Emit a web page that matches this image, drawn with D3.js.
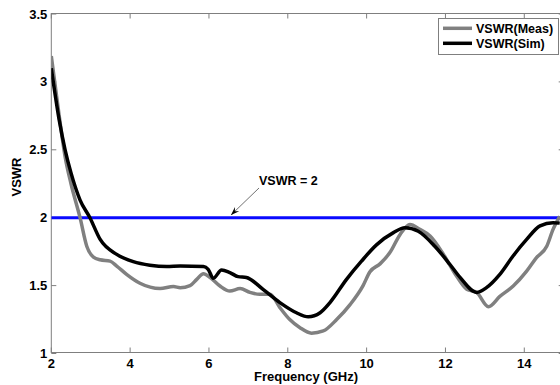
<!DOCTYPE html>
<html><head><meta charset="utf-8">
<script src="https://cdn.jsdelivr.net/npm/d3@7"></script>
<style>body{margin:0;background:#fff}svg{display:block}text{font-family:"Liberation Sans",Arial,sans-serif;font-weight:bold}</style>
</head><body>
<script>
const measFreq = [2.0,2.2,2.35,2.5,2.73,2.9,3.07,3.24,3.49,3.66,3.91,4.25,4.76,5.1,5.27,5.52,5.69,5.86,6.03,6.28,6.53,6.79,7.04,7.29,7.55,7.8,8.05,8.31,8.6,8.9,9.24,9.58,9.91,10.08,10.34,10.59,10.85,11.1,11.35,11.61,11.95,12.28,12.54,12.79,13.09,13.38,13.72,14.06,14.31,14.57,14.73,14.9];
const measVswr = [3.19,2.75,2.45,2.25,2.0,1.79,1.71,1.69,1.68,1.644,1.583,1.517,1.478,1.493,1.485,1.5,1.546,1.588,1.56,1.497,1.46,1.478,1.45,1.436,1.436,1.338,1.25,1.19,1.15,1.166,1.25,1.36,1.5,1.6,1.66,1.743,1.877,1.95,1.914,1.865,1.73,1.57,1.473,1.45,1.345,1.42,1.497,1.607,1.706,1.79,1.914,2.01];
const simFreq = [2.0,2.2,2.35,2.5,2.73,2.98,3.24,3.66,4.08,4.5,4.93,5.27,5.86,5.98,6.11,6.32,6.53,6.74,6.95,7.38,7.8,8.22,8.52,8.82,9.07,9.49,9.87,10.25,10.68,10.97,11.31,11.73,12.11,12.37,12.79,13.04,13.38,13.72,14.06,14.4,14.73,14.9];
const simVswr = [3.1,2.72,2.5,2.33,2.13,2.0,1.84,1.73,1.676,1.65,1.64,1.644,1.64,1.62,1.554,1.615,1.596,1.566,1.56,1.47,1.375,1.3,1.27,1.3,1.375,1.546,1.68,1.8,1.89,1.926,1.9,1.79,1.657,1.56,1.45,1.485,1.583,1.72,1.84,1.94,1.963,1.96];
const xTicks = [2,4,6,8,10,12,14];
const yTicks = [1,1.5,2,2.5,3,3.5];
const refFreq = [2,15];
const refVswr = [2,2];
const seriesNames = ["VSWR(Meas)","VSWR(Sim)"];

const W=560,H=385;
const svg=d3.select("body").append("svg").attr("width",W).attr("height",H);
const x=d3.scaleLinear().domain([2,15]).range([51.3,563.7]);
const y=d3.scaleLinear().domain([1,3.5]).range([353.5,14]);
const pL=51.3,pR=563.7,pT=13.5,pB=352.5;
const axisCol="#7f7f7f";

svg.append("rect").attr("x",pL).attr("y",pT).attr("width",pR-pL).attr("height",pB-pT)
  .attr("fill","none").attr("stroke",axisCol).attr("stroke-width",1);

const tl=5;
xTicks.forEach(t=>{
  const px=x(t);
  svg.append("line").attr("x1",px).attr("x2",px).attr("y1",pB).attr("y2",pB-tl).attr("stroke",axisCol);
  svg.append("line").attr("x1",px).attr("x2",px).attr("y1",pT).attr("y2",pT+tl).attr("stroke",axisCol);
  svg.append("text").attr("x",px).attr("y",pB+15).attr("text-anchor","middle").attr("font-size",13).text(t);
});
yTicks.forEach(t=>{
  const py=y(t);
  svg.append("line").attr("x1",pL).attr("x2",pL+tl).attr("y1",py).attr("y2",py).attr("stroke",axisCol);
  svg.append("line").attr("x1",pR).attr("x2",pR-tl).attr("y1",py).attr("y2",py).attr("stroke",axisCol);
  svg.append("text").attr("x",pL-4).attr("y",py+4.5).attr("text-anchor","end").attr("font-size",13).text(t);
});

svg.append("text").attr("x",306).attr("y",381).attr("text-anchor","middle").attr("font-size",13).text("Frequency (GHz)");
svg.append("text").attr("transform","translate(21,177) rotate(-90)").attr("text-anchor","middle").attr("font-size",13).text("VSWR");

svg.append("defs").append("clipPath").attr("id","c").append("rect")
  .attr("x",pL).attr("y",pT).attr("width",pR-pL).attr("height",pB-pT);
const g=svg.append("g").attr("clip-path","url(#c)");
const line=d3.line().x(d=>x(d[0])).y(d=>y(d[1])).curve(d3.curveMonotoneX);

g.append("path").datum(refFreq.map((f,i)=>[f,refVswr[i]])).attr("d",line).attr("fill","none").attr("stroke","#0a0aff").attr("stroke-width",3);
g.append("path").datum(measFreq.map((f,i)=>[f,measVswr[i]])).attr("d",line).attr("fill","none").attr("stroke","#808080").attr("stroke-width",3.5).attr("stroke-linejoin","round");
g.append("path").datum(simFreq.map((f,i)=>[f,simVswr[i]])).attr("d",line).attr("fill","none").attr("stroke","#000").attr("stroke-width",3.5).attr("stroke-linejoin","round");

svg.append("text").attr("x",259).attr("y",185).attr("font-size",12.5).text("VSWR = 2");
const ax1=259,ay1=188,ax2=231,ay2=215;
svg.append("line").attr("x1",ax1).attr("y1",ay1).attr("x2",ax2).attr("y2",ay2).attr("stroke","#333").attr("stroke-width",0.7);
const ang=Math.atan2(ay2-ay1,ax2-ax1), hl=9, hw=0.35;
svg.append("path").attr("d",`M${ax2},${ay2}L${ax2-hl*Math.cos(ang-hw)},${ay2-hl*Math.sin(ang-hw)}L${ax2-hl*0.6*Math.cos(ang)},${ay2-hl*0.6*Math.sin(ang)}L${ax2-hl*Math.cos(ang+hw)},${ay2-hl*Math.sin(ang+hw)}Z`).attr("fill","#000");

const lg=svg.append("g");
lg.append("rect").attr("x",438.5).attr("y",18.5).attr("width",120).attr("height",36).attr("fill","#fff").attr("stroke",axisCol);
const legCols=["#808080","#000"];
seriesNames.forEach((n,i)=>{
  const ly=28.3+i*15;
  lg.append("line").attr("x1",443).attr("x2",472).attr("y1",ly).attr("y2",ly).attr("stroke",legCols[i]).attr("stroke-width",3.5);
  lg.append("text").attr("x",476).attr("y",ly+4.5).attr("font-size",12.5).text(n);
});
</script>
</body></html>
